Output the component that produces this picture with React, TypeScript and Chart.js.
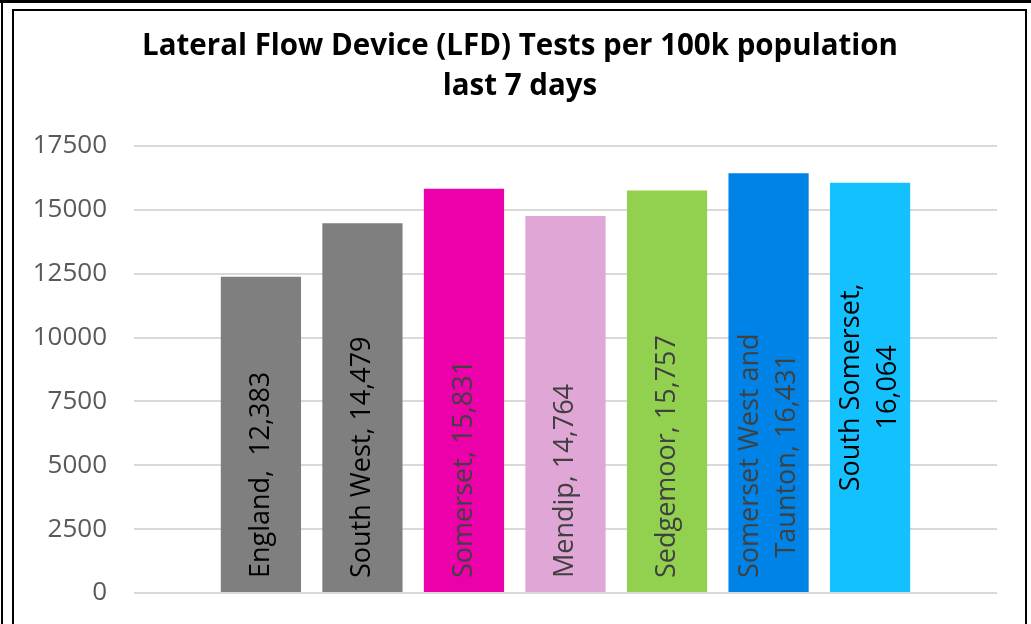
import React, { useEffect, useRef } from "react";
import { Chart, registerables } from "chart.js";

Chart.register(...registerables);

const categories = [
  "England ",
  "South West",
  "Somerset",
  "Mendip",
  "Sedgemoor",
  "Somerset West and Taunton",
  "South Somerset",
];
const testsPer100k = [12383, 14479, 15831, 14764, 15757, 16431, 16064];
const titleLines = ["Lateral Flow Device (LFD) Tests per 100k population", "last 7 days"];
const yMin = 0;
const yMax = 17500;
const yStep = 2500;

const barColors = ["#7f7f7f", "#7f7f7f", "#ec00aa", "#e0a6d6", "#92d050", "#0083e6", "#14c1ff"];
const labelColors = ["#000000", "#000000", "#404040", "#404040", "#404040", "#404040", "#000000"];
const labelWrapAfterWords = [0, 0, 0, 0, 0, 3, 2];
const labelAnchors = ["base", "base", "base", "base", "base", "base", "middle"];

const FONT = "'Open Sans', 'Noto Sans', sans-serif";

function labelLines(i: number): string[] {
  const text = `${categories[i]}, ${testsPer100k[i].toLocaleString("en-GB")}`.replace(" ,", ", ");
  const n = labelWrapAfterWords[i];
  if (!n) return [text];
  const words = text.split(" ");
  return [words.slice(0, n).join(" "), words.slice(n).join(" ")];
}

const barLabelPlugin = {
  id: "barLabels",
  afterDatasetsDraw(chart: any) {
    const meta = chart.getDatasetMeta(0);
    const ctx = chart.ctx as CanvasRenderingContext2D;
    meta.data.forEach((el: any, i: number) => {
      const lines = labelLines(i);
      ctx.save();
      ctx.font = `27px ${FONT}`;
      ctx.fillStyle = labelColors[i];
      ctx.translate(el.x, el.base);
      ctx.rotate(-Math.PI / 2);
      const maxW = Math.max(...lines.map((l) => ctx.measureText(l).width));
      const cx = labelAnchors[i] === "base" ? 14 + maxW / 2 : (el.base - el.y) / 2;
      ctx.textAlign = "center";
      ctx.textBaseline = "middle";
      const lh = 37;
      lines.forEach((l, j) => {
        ctx.fillText(l, cx, (j - (lines.length - 1) / 2) * lh);
      });
      ctx.restore();
    });
  },
};

export default function App() {
  const ref = useRef<HTMLCanvasElement | null>(null);
  useEffect(() => {
    if (!ref.current) return;
    const chart = new Chart(ref.current, {
      type: "bar",
      data: {
        datasets: [
          {
            data: testsPer100k.map((v, i) => ({ x: i, y: v })),
            backgroundColor: barColors,
            barPercentage: 0.79,
            categoryPercentage: 1,
          },
        ],
      },
      options: {
        responsive: false,
        animation: false,
        layout: { padding: { left: 9, right: 0, top: 0, bottom: 31 } },
        plugins: {
          legend: { display: false },
          tooltip: { enabled: false },
          title: {
            display: true,
            text: titleLines,
            color: "#000000",
            font: { family: FONT, size: 29.5, weight: "bold", lineHeight: 40 / 29.5 },
            padding: { top: 27, bottom: 39 },
          },
        },
        scales: {
          x: {
            type: "linear",
            min: -1.25,
            max: categories.length - 1 + 1.25,
            offset: false,
            display: false,
          },
          y: {
            min: yMin,
            max: yMax,
            ticks: {
              stepSize: yStep,
              color: "#595959",
              font: { family: FONT, size: 26 },
              padding: 27,
              callback: (v: any) => String(v),
            },
            grid: { color: "#d9d9d9", lineWidth: 2, drawTicks: false },
            border: { display: false },
            afterFit: (s: any) => {
              s.width = 125;
              s.paddingTop = 0;
              s.paddingBottom = 0;
            },
          },
          yRightMargin: {
            type: "linear",
            position: "right",
            display: true,
            ticks: { display: false },
            grid: { display: false, drawTicks: false },
            border: { display: false },
            afterFit: (s: any) => {
              s.width = 34;
              s.paddingTop = 0;
              s.paddingBottom = 0;
            },
          },
        },
      } as any,
      plugins: [barLabelPlugin],
    });
    return () => chart.destroy();
  }, []);

  const line = (style: React.CSSProperties) => (
    <div style={{ position: "absolute", background: "#000", pointerEvents: "none", ...style }} />
  );

  return (
    <div style={{ position: "fixed", left: 0, top: 0, width: 1031, height: 624, background: "#fff", overflow: "hidden" }}>
      <canvas ref={ref} width={1031} height={624} style={{ position: "absolute", left: 0, top: 0 }} />
      {line({ left: 0, top: 0, width: 1031, height: 3 })}
      {line({ left: 1, top: 0, width: 2, height: 624 })}
      {line({ left: 12, top: 9, width: 2, height: 615 })}
      {line({ left: 12, top: 9, width: 1015, height: 2 })}
      {line({ left: 1025, top: 9, width: 2, height: 615 })}
    </div>
  );
}
